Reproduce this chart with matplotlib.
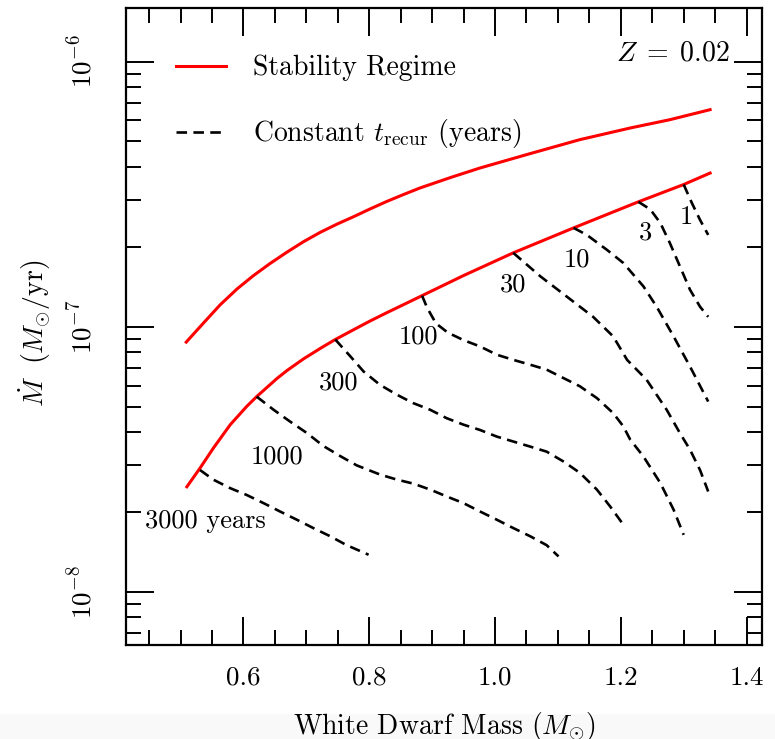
#!/usr/bin/env python3
"""Recurrence-time contours inside the steady-burning stability band (Z = 0.02)."""

import matplotlib
matplotlib.use("Agg")
import matplotlib.pyplot as plt
from matplotlib.patches import Rectangle
from matplotlib.ticker import FormatStrFormatter, LogLocator, MultipleLocator

plt.rcParams["font.family"] = "cmr10"
plt.rcParams["mathtext.fontset"] = "cm"
plt.rcParams["axes.formatter.use_mathtext"] = True
plt.rcParams["axes.unicode_minus"] = False

# stability regime boundaries (M_wd in Msun, Mdot in Msun/yr)
upper_m = [0.509, 0.536, 0.563, 0.590, 0.616, 0.642, 0.669, 0.695, 0.722, 0.749,
           0.775, 0.801, 0.828, 0.854, 0.881, 0.930, 0.976, 1.056, 1.135, 1.215,
           1.278, 1.342]
upper_mdot = [8.75e-8, 1.03e-7, 1.21e-7, 1.39e-7, 1.56e-7, 1.73e-7, 1.91e-7, 2.09e-7,
              2.27e-7, 2.44e-7, 2.60e-7, 2.78e-7, 2.97e-7, 3.15e-7, 3.34e-7, 3.66e-7,
              3.97e-7, 4.50e-7, 5.08e-7, 5.62e-7, 6.04e-7, 6.59e-7]
lower_m = [0.510, 0.531, 0.552, 0.579, 0.605, 0.621, 0.653, 0.669, 0.695, 0.722,
           0.746, 0.775, 0.801, 0.828, 0.854, 0.884, 0.950, 1.029, 1.125, 1.228,
           1.300, 1.342]
lower_mdot = [2.49e-8, 2.93e-8, 3.48e-8, 4.27e-8, 5.00e-8, 5.45e-8, 6.37e-8, 6.83e-8,
              7.55e-8, 8.28e-8, 8.95e-8, 9.74e-8, 1.05e-7, 1.13e-7, 1.21e-7, 1.31e-7,
              1.56e-7, 1.90e-7, 2.36e-7, 2.96e-7, 3.44e-7, 3.80e-7]

# constant recurrence time contours
t1_m = [1.300, 1.313, 1.326, 1.339]
t1_mdot = [3.44e-7, 2.93e-7, 2.53e-7, 2.22e-7]
t3_m = [1.228, 1.247, 1.263, 1.278, 1.294, 1.310, 1.326, 1.339]
t3_mdot = [2.96e-7, 2.77e-7, 2.46e-7, 2.07e-7, 1.69e-7, 1.38e-7, 1.19e-7, 1.09e-7]
t10_m = [1.125, 1.146, 1.178, 1.204, 1.236, 1.257, 1.284, 1.310, 1.321, 1.339]
t10_mdot = [2.36e-7, 2.22e-7, 1.95e-7, 1.74e-7, 1.42e-7, 1.19e-7, 9.19e-8, 7.08e-8,
            6.31e-8, 5.22e-8]
t30_m = [1.029, 1.072, 1.114, 1.156, 1.188, 1.210, 1.241, 1.273, 1.294, 1.310,
         1.326, 1.339]
t30_mdot = [1.90e-7, 1.55e-7, 1.30e-7, 1.09e-7, 9.19e-8, 7.50e-8, 6.31e-8, 4.86e-8,
            3.97e-8, 3.44e-8, 2.88e-8, 2.39e-8]
t100_m = [0.884, 0.892, 0.906, 0.925, 0.950, 0.976, 1.003, 1.029, 1.056, 1.082,
          1.109, 1.135, 1.162, 1.188, 1.204, 1.215, 1.236, 1.263, 1.284, 1.300]
t100_mdot = [1.31e-7, 1.18e-7, 1.03e-7, 9.5e-8, 8.9e-8, 8.43e-8, 7.84e-8, 7.50e-8,
             7.19e-8, 6.89e-8, 6.40e-8, 5.96e-8, 5.38e-8, 4.72e-8, 4.21e-8, 3.75e-8,
             3.24e-8, 2.57e-8, 2.04e-8, 1.64e-8]
t300_m = [0.746, 0.770, 0.791, 0.817, 0.844, 0.870, 0.897, 0.923, 0.950, 0.976,
          1.003, 1.029, 1.056, 1.082, 1.109, 1.135, 1.162, 1.183, 1.202]
t300_mdot = [8.95e-8, 7.73e-8, 6.78e-8, 6.04e-8, 5.54e-8, 5.15e-8, 4.86e-8, 4.52e-8,
             4.27e-8, 4.08e-8, 3.85e-8, 3.69e-8, 3.53e-8, 3.38e-8, 3.10e-8, 2.81e-8,
             2.43e-8, 2.10e-8, 1.82e-8]
t1000_m = [0.621, 0.648, 0.674, 0.701, 0.727, 0.754, 0.780, 0.817, 0.844, 0.870,
           0.897, 0.923, 0.950, 0.976, 1.003, 1.029, 1.056, 1.082, 1.101]
t1000_mdot = [5.45e-8, 4.86e-8, 4.39e-8, 3.97e-8, 3.55e-8, 3.25e-8, 3.00e-8, 2.77e-8,
              2.65e-8, 2.56e-8, 2.43e-8, 2.29e-8, 2.16e-8, 2.01e-8, 1.87e-8, 1.74e-8,
              1.62e-8, 1.50e-8, 1.36e-8]
t3000_m = [0.531, 0.552, 0.579, 0.605, 0.632, 0.658, 0.685, 0.711, 0.738, 0.764, 0.799]
t3000_mdot = [2.88e-8, 2.65e-8, 2.46e-8, 2.32e-8, 2.16e-8, 2.01e-8, 1.87e-8, 1.74e-8,
              1.62e-8, 1.50e-8, 1.38e-8]

contours = [
    (t1_m, t1_mdot), (t3_m, t3_mdot), (t10_m, t10_mdot), (t30_m, t30_mdot),
    (t100_m, t100_mdot), (t300_m, t300_mdot), (t1000_m, t1000_mdot),
    (t3000_m, t3000_mdot),
]

contour_labels = ["1", "3", "10", "30", "100", "300", "1000", "3000 years"]
label_m = [1.304, 1.240, 1.130, 1.029, 0.878, 0.751, 0.653, 0.539]
label_mdot = [2.6e-7, 2.26e-7, 1.79e-7, 1.44e-7, 9.2e-8, 6.13e-8, 3.24e-8, 1.84e-8]


def main() -> None:
    fig = plt.figure(figsize=(7.75, 7.39), dpi=100)
    fig.patches.append(
        Rectangle((0, 0), 1, 25 / 739, transform=fig.transFigure,
                  facecolor="#f9f9f9", edgecolor="none", zorder=-10)
    )
    ax = fig.add_axes([0.1632, 0.1272, 0.8204, 0.8616])
    ax.patch.set_alpha(0)

    ax.plot(upper_m, upper_mdot, color="red", lw=2.2, label="Stability Regime")
    ax.plot(lower_m, lower_mdot, color="red", lw=2.2)
    for i, (m, mdot) in enumerate(contours):
        ax.plot(m, mdot, color="black", lw=1.9, dashes=(4.0, 2.4),
                label=r"Constant $t_{\rm recur}$ (years)" if i == 0 else None)

    for text, m, mdot in zip(contour_labels, label_m, label_mdot):
        ax.text(m, mdot, text, fontsize=19, ha="center", va="center")

    ax.text(0.949, 0.930, r"$Z \;=\; 0.02$", transform=ax.transAxes,
            fontsize=20, ha="right", va="center")

    ax.set_yscale("log")
    ax.set_xlim(0.414, 1.425)
    ax.set_ylim(6.3e-9, 1.59e-6)

    ax.xaxis.set_major_locator(MultipleLocator(0.2))
    ax.xaxis.set_minor_locator(MultipleLocator(0.05))
    ax.xaxis.set_major_formatter(FormatStrFormatter("%.1f"))
    ax.yaxis.set_major_locator(LogLocator(base=10))
    ax.yaxis.set_minor_locator(LogLocator(base=10, subs=range(2, 10)))

    ax.tick_params(which="both", direction="in", top=True, right=True, width=1.4)
    ax.tick_params(which="major", length=20)
    ax.tick_params(which="minor", length=11)
    ax.tick_params(axis="x", which="major", pad=15, labelsize=19.5)
    ax.tick_params(axis="y", which="major", pad=21, labelsize=19.5)
    for lab in ax.get_yticklabels():
        lab.set_rotation(90)
        lab.set_va("center")
    for spine in ax.spines.values():
        spine.set_linewidth(1.6)

    ax.set_xlabel(r"White Dwarf Mass ($M_{\odot}$)", fontsize=20)
    ax.xaxis.set_label_coords(0.5, -0.102)
    ax.set_ylabel(r"$\dot{M}\ \ (M_{\odot}/{\rm yr})$", fontsize=20)
    ax.yaxis.set_label_coords(-0.115, 0.49)

    ax.legend(loc="upper left", bbox_to_anchor=(0.078, 0.927), frameon=False,
              fontsize=20, borderpad=0, borderaxespad=0, handlelength=1.8,
              handletextpad=0.97, labelspacing=1.3)

    fig.savefig("out.png", dpi=100)
    plt.close(fig)


if __name__ == "__main__":
    main()
